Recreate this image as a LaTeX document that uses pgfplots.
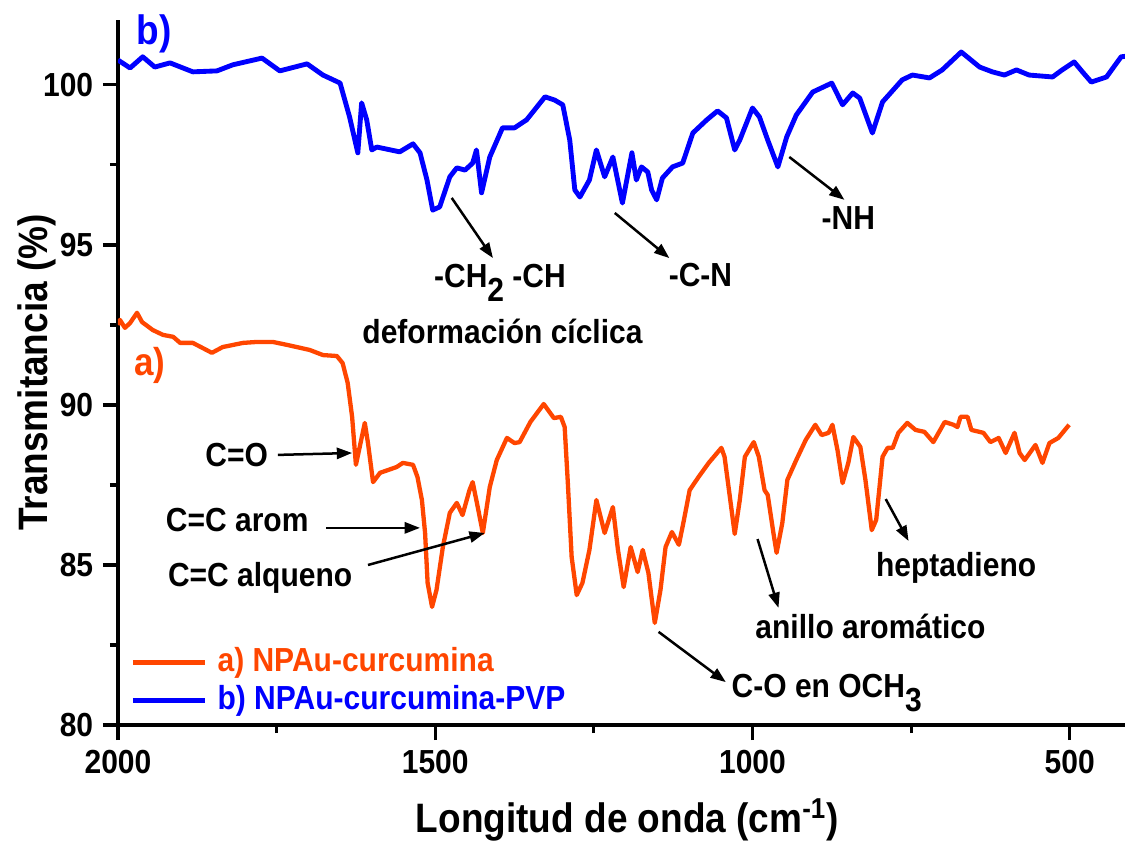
\documentclass[border=0pt]{standalone}
\usepackage{fontspec}
\setmainfont{Liberation Sans}[FakeStretch=0.9]
\usepackage{pgfplots}
\pgfplotsset{compat=1.18}
\usetikzlibrary{arrows.meta}
\definecolor{curA}{RGB}{255,70,0}
\definecolor{curB}{RGB}{0,0,255}
% big lowered subscript as in the original figure
\newcommand{\sbs}[1]{\raisebox{-4.8pt}{#1}}

\begin{document}
\begin{tikzpicture}[
  ann/.style={font=\bfseries\fontsize{12}{13}\selectfont, anchor=base, inner sep=0pt},
  arr/.style={-{Triangle[length=5.5pt,width=4pt]}, line width=0.9pt, black},
]
\begin{axis}[
  at={(0,0)}, anchor=south west,
  scale only axis, width=362.5pt, height=253.8pt,
  x dir=reverse, xmin=413, xmax=2000, ymin=80, ymax=102.03,
  axis x line*=bottom, axis y line*=left,
  axis line style={line width=1.1pt},
  every tick/.style={black, line width=1.1pt},
  tick align=outside,
  major tick length=5.4pt, minor tick length=2.9pt,
  xtick={500,1000,1500,2000}, minor xtick={750,1250,1750},
  ytick={80,85,90,95,100}, minor ytick={82.5,87.5,92.5,97.5},
  /pgf/number format/assume math mode=true,
  /pgf/number format/1000 sep={},
  tick label style={font=\bfseries\fontsize{12}{13}\selectfont},
  xlabel={Longitud de onda (cm\textsuperscript{-1})},
  ylabel={Transmitancia (\%)},
  label style={font=\bfseries\fontsize{14.8}{16}\selectfont},
  xlabel style={at={(axis description cs:0.506,-0.153)}, anchor=base},
  ylabel style={at={(axis description cs:-0.0695,0.5)}, anchor=base},
  clip mode=individual,
  legend style={draw=none, fill=none, inner sep=0pt,
    at={(axis description cs:0.0119,0.112)}, anchor=north west,
    font=\bfseries\fontsize{12}{13}\selectfont,
    row sep=2.2pt, column sep=3.6pt,
    nodes={inner sep=0pt, text height=9pt, text depth=2.5pt}},
  legend cell align=left,
  legend image code/.code={\draw[#1] (0pt,0pt) -- (26pt,0pt);},
]

% a) NPAu-curcumina
\addplot[curA, line width=1.55pt, line join=round] coordinates {
(2000,92.5)(1997,92.66)(1989,92.41)(1981,92.56)(1970,92.88)(1962,92.59)(1945,92.34)
(1929,92.19)(1913,92.13)(1902,91.94)(1882,91.94)(1852,91.63)(1835,91.81)(1803,91.94)
(1781,91.97)(1756,91.97)(1734,91.88)(1698,91.72)(1677,91.56)(1655,91.53)(1646,91.31)
(1638,90.69)(1631,89.63)(1625,88.13)(1619,88.69)(1611,89.44)(1606,88.81)(1598,87.59)
(1587,87.88)(1561,88.06)(1551,88.19)(1535,88.13)(1528,87.75)(1521,87.03)(1516,86.0)
(1512,84.44)(1505,83.69)(1498,84.22)(1488,85.56)(1477,86.63)(1466,86.94)(1457,86.56)
(1446,87.34)(1441,87.59)(1433,86.81)(1425,86.0)(1414,87.44)(1403,88.28)(1387,88.97)
(1375,88.81)(1367,88.84)(1350,89.47)(1329,90.03)(1313,89.59)(1302,89.63)(1296,89.31)
(1291,87.56)(1285,85.25)(1277,84.06)(1268,84.44)(1257,85.47)(1246,87.03)(1233,86.0)
(1220,86.81)(1212,85.47)(1203,84.31)(1192,85.56)(1181,84.78)(1173,85.47)(1164,84.75)
(1154,83.19)(1145,84.22)(1137,85.56)(1127,86.03)(1116,85.63)(1109,86.31)(1099,87.34)
(1085,87.75)(1069,88.19)(1049,88.66)(1044,88.38)(1035,87.03)(1028,85.97)(1020,87.03)
(1012,88.38)(998,88.84)(990,88.38)(981,87.34)(976,87.19)(967,86.0)(962,85.38)
(953,86.31)(945,87.66)(931,88.28)(916,88.91)(901,89.38)(891,89.06)(880,89.13)
(874,89.38)(866,88.59)(858,87.56)(849,88.19)(841,89.0)(830,88.69)(822,87.66)
(812,86.09)(805,86.41)(795,88.38)(787,88.66)(779,88.66)(770,89.13)(756,89.44)
(743,89.22)(729,89.16)(715,88.84)(697,89.47)(683,89.38)(677,89.31)(672,89.63)
(661,89.63)(655,89.22)(636,89.13)(625,88.84)(612,88.97)(601,88.5)(587,89.13)
(579,88.5)(571,88.28)(554,88.75)(543,88.19)(532,88.81)(518,88.97)(501,89.38)
};
\addlegendentry{\textcolor{curA}{a) NPAu-curcumina}}

% b) NPAu-curcumina-PVP
\addplot[curB, line width=1.75pt, line join=round] coordinates {
(2000,100.78)(1981,100.53)(1961,100.88)(1942,100.56)(1918,100.69)(1882,100.41)
(1844,100.44)(1819,100.63)(1773,100.84)(1745,100.44)(1702,100.66)(1677,100.31)
(1650,100.06)(1635,99.0)(1622,97.88)(1616,99.44)(1608,98.91)(1600,97.97)(1592,98.06)
(1556,97.91)(1535,98.16)(1524,97.88)(1513,97.03)(1504,96.09)(1493,96.19)(1477,97.13)
(1466,97.41)(1453,97.34)(1441,97.56)(1435,97.97)(1427,96.63)(1414,97.75)(1394,98.66)
(1375,98.66)(1356,98.91)(1327,99.63)(1312,99.53)(1299,99.38)(1288,98.28)(1280,96.72)
(1272,96.5)(1257,97.03)(1246,97.97)(1233,97.13)(1220,97.75)(1205,96.31)(1190,97.88)
(1183,97.03)(1175,97.44)(1165,97.28)(1159,96.72)(1151,96.41)(1142,97.09)(1126,97.44)
(1110,97.56)(1094,98.5)(1072,98.91)(1055,99.19)(1041,98.97)(1028,97.97)(1020,98.28)
(1000,99.28)(989,99.0)(976,98.28)(960,97.44)(946,98.38)(931,99.06)(905,99.78)
(875,100.06)(858,99.38)(842,99.75)(831,99.59)(811,98.5)(795,99.47)(764,100.16)
(748,100.31)(721,100.22)(701,100.47)(671,101.03)(642,100.56)(622,100.41)(603,100.31)
(584,100.47)(564,100.31)(527,100.25)(512,100.47)(493,100.72)(480,100.41)(466,100.09)
(442,100.25)(419,100.88)(410,100.9)
};
\addlegendentry{\textcolor{curB}{b) NPAu-curcumina-PVP}}

% series tags
\node[font=\bfseries\fontsize{14.8}{16}\selectfont, text=curB, anchor=base, inner sep=0pt] at (axis cs:1943,101.25) {b)};
\node[font=\bfseries\fontsize{14}{15}\selectfont, text=curA, anchor=base, inner sep=0pt] at (axis cs:1950,90.91) {a)};

% band assignments
\node[ann] at (axis cs:1398,93.66) {-CH\sbs{2} -CH};
\node[ann] at (axis cs:1394,91.91) {deformación cíclica};
\node[ann] at (axis cs:1082,93.69) {-C-N};
\node[ann] at (axis cs:849,95.47) {-NH};
\node[ann] at (axis cs:1813,88.09) {C=O};
\node[ann] at (axis cs:1812,86.04) {C=C arom};
\node[ann] at (axis cs:1776,84.34) {C=C alqueno};
\node[ann] at (axis cs:883,80.85) {C-O en OCH\sbs{3}};
\node[ann] at (axis cs:814,82.69) {anillo aromático};
\node[ann] at (axis cs:679,84.63) {heptadieno};

\draw[arr] (axis cs:1474,96.47) -- (axis cs:1409,94.59);
\draw[arr] (axis cs:1217,96.0) -- (axis cs:1131,94.59);
\draw[arr] (axis cs:942,97.75) -- (axis cs:855,96.41);
\draw[arr] (axis cs:1748,88.44) -- (axis cs:1631,88.5);
\draw[arr] (axis cs:1672,86.16) -- (axis cs:1524,86.16);
\draw[arr] (axis cs:1606,85.0) -- (axis cs:1422,86.0);
\draw[arr] (axis cs:1148,82.91) -- (axis cs:1042,81.34);
\draw[arr] (axis cs:992,85.81) -- (axis cs:959,83.66);
\draw[arr] (axis cs:790,87.06) -- (axis cs:754,85.75);
\end{axis}
\pgfresetboundingbox
\path[use as bounding box] (-42.48pt,-41.76pt) rectangle (362.52pt,261pt);
\end{tikzpicture}
\end{document}
